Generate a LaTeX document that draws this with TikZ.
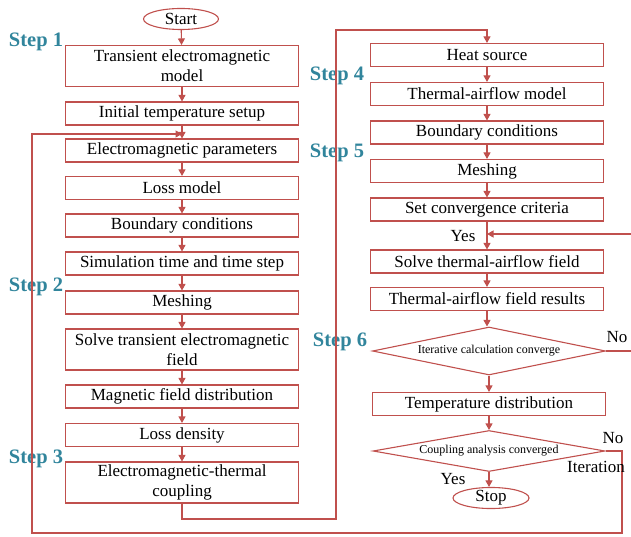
\documentclass[tikz,border=0pt]{standalone}
\usepackage{fontspec}
\setmainfont{Liberation Serif}
\usetikzlibrary{shapes.geometric,arrows.meta}
\definecolor{lred}{HTML}{C0504D}
\definecolor{steal}{HTML}{31859C}
\begin{document}
\begin{tikzpicture}[x=1pt,y=-1pt,
  box/.style={draw=lred,line width=1.1pt,minimum width=233pt,minimum height=23pt,inner sep=1pt,align=center,font=\fontsize{17}{20}\selectfont},
  tbox/.style={box,minimum height=41pt},
  term/.style={draw=lred,line width=1.1pt,ellipse,minimum width=75pt,minimum height=21pt,inner sep=0pt,font=\fontsize{17}{20}\selectfont},
  dec/.style={draw=lred,line width=1.1pt,diamond,aspect=5,inner sep=0pt,font=\fontsize{12}{14}\selectfont},
  arr/.style={draw=lred,line width=1.1pt,-{Triangle[length=6.5pt,width=7pt]}},
  steplbl/.style={text=steal,font=\fontsize{20.5}{24}\selectfont\bfseries,inner sep=0pt},
  lbl/.style={font=\fontsize{17}{20}\selectfont,inner sep=0pt}]
\useasboundingbox (0,0) rectangle (631,537);
% left column
\node[term] (start) at (181,19) {Start};
\node[tbox] (m1) at (182,66) {Transient electromagnetic\\model};
\node[box] (m2) at (182,113.5) {Initial temperature setup};
\node[box] (m3) at (182,150.5) {Electromagnetic parameters};
\node[box] (m4) at (182,188) {Loss model};
\node[box] (m5) at (182,225.5) {Boundary conditions};
\node[box] (m6) at (182,263.5) {Simulation time and time step};
\node[box] (m7) at (182,302.5) {Meshing};
\node[tbox] (m8) at (182,349.5) {Solve transient electromagnetic\\field};
\node[box] (m9) at (182,396.5) {Magnetic field distribution};
\node[box] (m10) at (182,435) {Loss density};
\node[tbox] (m11) at (182,482.5) {Electromagnetic-thermal\\coupling};
% right column
\node[box] (r1) at (487,55) {Heat source};
\node[box] (r2) at (487,94) {Thermal-airflow model};
\node[box] (r3) at (487,132.5) {Boundary conditions};
\node[box] (r4) at (487,171) {Meshing};
\node[box] (r5) at (487,209.5) {Set convergence criteria};
\node[box] (r6) at (487,261.5) {Solve thermal-airflow field};
\node[box] (r7) at (487,299) {Thermal-airflow field results};
\node[dec,minimum width=233pt,minimum height=48pt] (d1) at (489,351) {Iterative calculation converge};
\node[box] (r8) at (489,404) {Temperature distribution};
\node[dec,minimum width=232pt,minimum height=41pt] (d2) at (489,451) {Coupling analysis converged};
\node[term,minimum width=76pt,minimum height=20pt] (stop) at (491,498) {Stop};
% step labels
\node[steplbl] (s1) at (36,42) {Step 1};
\node[steplbl] (s2) at (36,287) {Step 2};
\node[steplbl] (s3) at (36,459) {Step 3};
\node[steplbl] (s4) at (337,76) {Step 4};
\node[steplbl] (s5) at (337,153) {Step 5};
\node[steplbl] (s6) at (340,342) {Step 6};
% left arrows
\draw[arr] (start) -- (m1);
\draw[arr] (m1) -- (m2);
\draw[arr] (m2) -- (m3);
\draw[arr] (m3) -- (m4);
\draw[arr] (m4) -- (m5);
\draw[arr] (m5) -- (m6);
\draw[arr] (m6) -- (m7);
\draw[arr] (m7) -- (m8);
\draw[arr] (m8) -- (m9);
\draw[arr] (m9) -- (m10);
\draw[arr] (m10) -- (m11);
% transfer to right column
\coordinate (c1) at (336,519);
\coordinate (c2) at (336,30);
\draw[arr] (m11.south) |- (c1) -- (c2) -| (r1.north);
% right arrows
\draw[arr] (r1) -- (r2);
\draw[arr] (r2) -- (r3);
\draw[arr] (r3) -- (r4);
\draw[arr] (r4) -- (r5);
\draw[arr] (r5) -- (r6);
\draw[arr] (r6) -- (r7);
\draw[arr] (r7.south) -- (r7.south |- d1.north);
\draw[arr] (d1.south) -- (d1.south |- r8.north);
\draw[arr] (r8) -- (d2);
\draw[arr] (d2.south) -- (d2.south |- stop.north);
% No loop of inner iteration
\coordinate (n1) at (634,351);
\coordinate (n2) at (634,234);
\coordinate (j2) at (487,234);
\draw[arr] (d1.east) -- (n1) -- (n2) -- (j2);
% outer coupling loop
\coordinate (o1) at (622,451);
\coordinate (o2) at (622,533);
\coordinate (o3) at (32,533);
\coordinate (o4) at (32,134);
\coordinate (j1) at (182,134);
\draw[arr] (d2.east) -- (o1) -- (o2) -- (o3) -- (o4) -- (j1);
% labels
\node[lbl] (y1) at (463,236) {Yes};
\node[lbl] (no1) at (617,337) {No};
\node[lbl] (no2) at (613,438) {No};
\node[lbl] (it) at (596,467) {Iteration};
\node[lbl] (y2) at (453,479) {Yes};
\end{tikzpicture}
\end{document}
